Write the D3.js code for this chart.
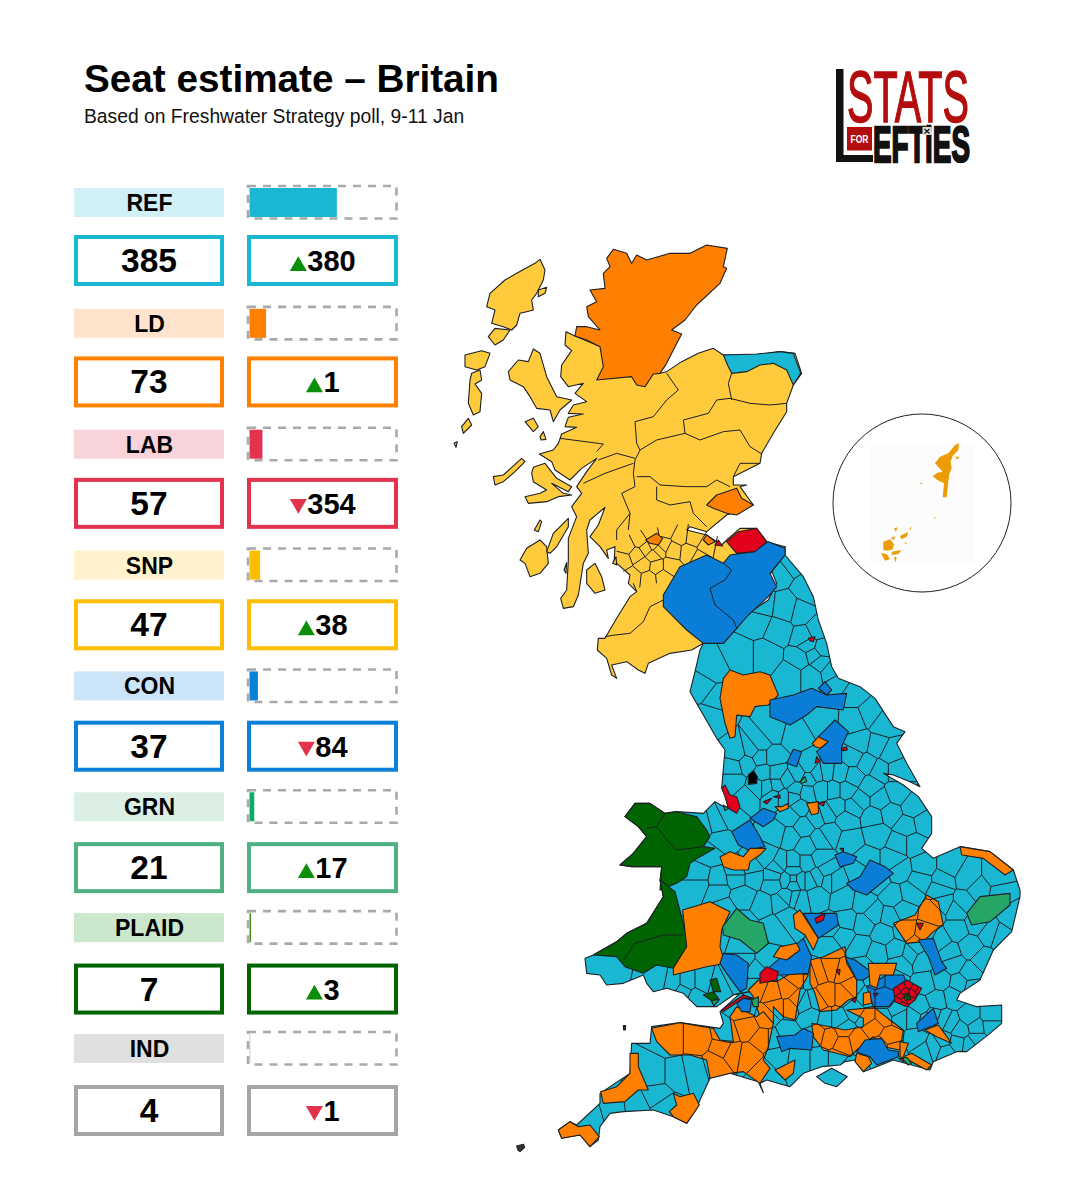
<!DOCTYPE html>
<html>
<head>
<meta charset="utf-8">
<script src="https://cdn.jsdelivr.net/npm/d3@7"></script>
<style>
  html, body { margin: 0; background: #fff; }
  text { font-family: "Liberation Sans", Arial, sans-serif; }
</style>
</head>
<body>
<svg id="chart" width="1078" height="1200"></svg>
<script>
// party table
const parties = ["REF", "LD", "LAB", "SNP", "CON", "GRN", "PLAID", "IND"];
const seats = [385, 73, 57, 47, 37, 21, 7, 4];
const changes = [380, 1, -354, 38, -84, 17, 3, -1];
const partyColors = ["#19b7d3", "#ff8000", "#e2324c", "#fdbe00", "#0a80d8", "#4fb183", "#006400", "#a5a5a5"];
const barColors = ["#19b7d3", "#ff8000", "#e2324c", "#fdbe00", "#0a80d8", "#0cad66", "#4c8c1c", "#c8c8c8"];
const labelTints = ["#d1f0f6", "#ffe3cc", "#f8d3da", "#fff2cc", "#cbe4f7", "#dcefe4", "#cce8cc", "#e0e0e0"];
const totalSeats = 650;

const mapColors = {
  ref: "#1ab7d3", ld: "#ff8000", lab: "#e2001a", snp: "#ffcb3c",
  con: "#0a7ed6", grn: "#25a566", plaid: "#006400", ind: "#000"
};

// outlines, in sheet units (3 units = 1px), one sheet per part of the map
const scotlandNorth = [[405,318],[378,305],[375,345],[395,362],[365,405],[362,440],[385,470],[430,460],[405,490],[440,515],[400,525],[385,550],[430,552],[385,562],[375,590],[410,592],[365,612],[355,640],[340,660],[298,672],[335,695],[345,720],[390,750],[425,715],[470,685],[440,725],[410,770],[425,790],[395,830],[410,860],[385,925],[385,990],[380,1080],[362,1105],[370,1135],[400,1130],[415,1095],[430,1000],[445,970],[440,900],[450,870],[495,832],[475,885],[450,920],[480,950],[505,985],[500,960],[525,950],[522,1000],[530,1000],[570,1035],[565,1060],[590,1085],[570,1100],[530,1165],[495,1225],[475,1225],[472,1260],[500,1285],[515,1335],[530,1345],[515,1305],[560,1295],[595,1320],[615,1330],[625,1300],[690,1270],[755,1260],[790,1240],[900,1150],[1030,980],[1035,950],[980,935],[950,895],[900,895],[860,930],[845,945],[800,915],[740,900],[750,890],[800,905],[860,855],[940,825],[900,770],[920,765],[880,765],[880,740],[960,700],[965,670],[1000,610],[1040,545],[1040,520],[1060,465],[1085,430],[1065,370],[1020,365],[950,375],[850,375],[820,355],[775,370],[725,395],[680,425],[660,430],[600,400]];
const scottishIslands = [
  [[300,88],[315,120],[310,150],[290,190],[275,210],[280,240],[260,245],[240,250],[230,285],[215,300],[190,290],[155,280],[165,240],[140,230],[150,190],[195,150],[230,130],[285,100]],
  [[165,295],[210,300],[190,330],[165,345],[145,320]],
  [[75,375],[125,362],[150,370],[135,410],[110,420],[75,410]],
  [[95,430],[120,420],[125,450],[105,462],[125,490],[120,545],[100,555],[85,520],[90,450]],
  [[65,590],[85,565],[95,585],[70,610]],
  [[42,640],[52,635],[48,652]],
  [[280,357],[300,370],[320,440],[350,500],[395,510],[360,540],[340,575],[330,540],[290,535],[270,500],[250,470],[210,450],[205,425],[235,390],[265,395]],
  [[295,180],[320,172],[315,190],[295,200]],
  [[255,575],[280,565],[295,590],[280,605]],
  [[300,620],[310,605],[318,628],[303,630]],
  [[280,712],[315,700],[350,745],[395,770],[385,785],[335,760],[370,790],[395,795],[355,800],[320,815],[265,820],[255,800],[300,790],[320,780],[280,755],[275,730]],
  [[160,740],[190,735],[245,685],[255,695],[225,725],[190,755],[165,765]],
  [[283,900],[300,870],[305,875],[295,905]],
  [[240,990],[260,955],[300,930],[320,950],[325,1000],[300,1030],[270,1040],[255,1000]],
  [[320,965],[340,910],[385,865],[385,890],[350,950],[330,970]],
  [[372,1020],[380,998],[378,1030]],
  [[440,1020],[465,1000],[485,1040],[495,1080],[465,1090],[440,1060]],
  [[518,1000],[528,980],[530,1005]]
];
const scottishSeats = [
  {party: "ld", ring: [[520,58],[560,70],[575,100],[590,75],[620,90],[690,70],[750,70],[800,45],[862,55],[850,110],[860,115],[840,160],[770,225],[735,270],[695,300],[725,312],[700,360],[680,400],[660,430],[640,432],[615,470],[590,465],[575,440],[470,450],[490,410],[480,350],[440,330],[405,318],[410,290],[440,290],[480,300],[445,260],[440,230],[470,215],[450,180],[495,175],[490,130],[510,110],[500,85]]},
  {party: "ref", ring: [[850,375],[950,372],[1020,365],[1060,370],[1082,430],[1060,465],[1040,420],[1000,400],[960,405],[920,425],[875,430],[865,410]]},
  {party: "ld", ring: [[800,825],[830,795],[890,775],[905,805],[940,825],[890,855],[860,850],[820,835]]},
  {party: "con", ring: [[790,1240],[850,1240],[890,1195],[925,1155],[985,1100],[1010,1070],[990,1030],[1035,975],[1035,955],[985,935],[940,965],[870,975],[850,1000],[800,975],[720,1010],[670,1095],[670,1130],[690,1150],[740,1200]]},
  {party: "lab", ring: [[860,935],[895,905],[950,895],[980,935],[945,965],[890,970]]},
  {party: "ld", ring: [[617,930],[650,910],[668,925],[655,945],[630,940]]},
  {party: "ld", ring: [[790,930],[800,915],[825,935],[805,945]]},
  {party: "lab", ring: [[825,945],[835,930],[848,948]]}
];
const bordersLine = [[850,1000],[875,1020],[855,1050],[810,1075],[825,1125],[880,1170],[890,1195]];
const scottishBoundaries = [
  [[680,430],[715,480],[680,510],[640,560],[585,575],[590,640],[600,660]],
  [[600,660],[650,630],[735,610],[780,630],[850,605],[900,600],[930,650],[965,672]],
  [[735,610],[730,570],[805,550],[830,510],[870,505],[930,520],[990,525],[1040,520]],
  [[875,430],[865,460],[875,510]],
  [[600,660],[585,690],[580,730],[585,770],[545,790],[570,850],[565,900]],
  [[475,690],[530,670],[585,685]],
  [[590,740],[630,740],[660,765],[740,770],[800,770],[830,750],[870,770]],
  [[880,740],[900,700],[960,700]],
  [[650,770],[650,810],[690,825],[750,815],[760,850],[800,890]],
  [[360,625],[490,642],[470,665]],
  [[495,1220],[525,1215],[570,1210],[610,1175],[630,1130],[670,1110]],
  [[580,1060],[590,1085]],
  [[670,1095],[700,1050]],
  [[570,850],[530,900],[530,930]],
  [[430,760],[495,730],[580,700]]
];
const centralBeltZone = [[530,930],[600,900],[740,880],[800,905],[860,930],[880,970],[830,990],[700,1050],[650,1060],[590,1075],[530,1000]];
const centralBeltSeeds = [[560,950],[600,930],[630,910],[680,900],[720,920],[760,925],[800,950],[850,960],[550,990],[590,975],[620,955],[640,945],[655,960],[640,975],[670,945],[700,960],[745,965],[780,985],[610,1005],[650,1010],[690,1010],[580,1040],[625,1045],[670,1040]];

const eastEngland = [[675,-160],[675,-135],[730,-70],[760,-10],[775,60],[800,130],[815,200],[835,235],[900,260],[945,295],[1000,380],[1035,395],[1010,430],[1040,490],[1080,560],[1050,545],[1000,525],[970,520],[1030,555],[1075,590],[1115,650],[1115,700],[1085,745],[1120,775],[1200,740],[1290,755],[1360,810],[1380,870]];
const southCoast = [[1530,110],[1505,215],[1450,270],[1410,360],[1350,400],[1340,420],[1400,440],[1475,435],[1475,490],[1440,520],[1370,575],[1340,575],[1270,605],[1260,630],[1150,600],[1100,620],[1060,635],[1035,600],[1005,605],[990,615],[935,620],[880,640],[840,680],[770,660],[750,670],[760,698],[745,665],[660,640],[600,655],[570,720],[560,745],[530,790],[490,770],[430,750],[340,755],[300,760],[270,800],[265,840],[240,860],[210,825],[155,835],[145,810],[180,785],[200,795],[270,730],[270,700],[360,640],[365,550],[420,550],[425,500],[510,488],[630,505],[640,490],[630,455],[690,400],[720,395],[670,405],[620,440],[560,440],[520,400],[470,385],[430,395],[410,370],[400,345],[340,370],[290,375],[270,345],[230,340],[225,295],[250,285],[320,245],[350,220],[410,190],[460,110],[450,60]];
const westEngland = [[305,800],[215,800],[180,795],[220,760],[260,710],[235,680],[195,650],[225,610],[270,610],[315,640],[350,635],[430,640],[465,605],[500,625],[510,590],[485,565],[495,450],[470,415],[430,345],[390,275],[405,215],[420,150],[430,130],[490,130],[530,85],[565,40],[625,0],[650,-50],[630,-100]];
const isleOfWight = [[920,650],[965,625],[1012,650],[980,680],[945,670]];

const middleSeeds = [[590,60],[660,90],[720,40],[730,110],[770,90],[745,135],[785,145],[760,165],[720,175],[780,190],[810,215],[755,225],[690,225],[830,250],[880,285],[930,340],[880,360],[970,370],[790,355],[700,410],[640,395],[600,430],[470,290],[430,260],[450,355],[460,210],[540,170],[620,170],[530,460],[575,450],[520,500],[560,490],[520,545],[560,590],[600,470],[640,470],[610,520],[650,520],[590,560],[620,560],[650,555],[680,540],[640,590],[670,590],[705,570],[715,520],[745,500],[745,535],[770,520],[800,515],[840,520],[880,470],[900,430],[950,440],[990,460],[1010,510],[960,510],[920,490],[880,530],[930,560],[960,600],[1010,580],[1060,620],[1090,670],[1040,680],[990,640],[940,650],[900,600],[860,570],[820,570],[785,570],[740,580],[720,620],[700,590],[690,650],[730,680],[770,650],[800,640],[830,620],[860,660],[880,620],[950,700],[1020,730],[1060,730],[1000,780],[920,780],[870,720],[810,700],[780,720],[740,740],[690,710],[650,700],[620,770],[660,790],[700,790],[740,790],[780,775],[800,810],[770,830],[820,840],[700,840],[640,830],[580,830],[510,650],[470,670],[480,720],[450,760],[430,680],[420,830],[470,840],[530,830],[650,-90],[690,-120],[600,20],[680,30],[750,-30]];
const southSeeds = [[570,70],[700,110],[680,40],[725,25],[790,70],[800,20],[850,30],[855,115],[830,110],[870,120],[810,130],[760,135],[920,110],[960,60],[1000,120],[1050,30],[1100,60],[1170,30],[1230,60],[1300,60],[1370,50],[1460,50],[1150,110],[1060,130],[1010,180],[1060,190],[1120,220],[1180,150],[1300,130],[1340,210],[1440,220],[1380,260],[1320,280],[1290,240],[1100,280],[1160,270],[1170,310],[1200,280],[1240,300],[1330,310],[1380,340],[1350,370],[1290,360],[1250,370],[1170,470],[1220,540],[1270,560],[1320,490],[1380,470],[1440,470],[1400,540],[1340,550],[1230,440],[1280,420],[1330,410],[1160,450],[1120,470],[980,480],[950,480],[1000,550],[440,360],[490,370],[530,370],[580,370],[620,380],[560,410],[520,390],[430,640],[500,640],[550,630],[440,710],[380,740],[310,750],[240,770],[460,740],[650,520],[880,430],[830,520],[800,590],[870,600],[930,600],[980,600],[1010,625],[960,260],[1000,230],[1050,260],[960,200],[770,300],[730,230],[700,300],[680,350],[740,330],[290,330],[1100,350],[1060,320],[1150,350],[1270,470],[1210,470],
  [1360,130],[1410,90],[1470,100],[1510,170],[1470,230],[1400,190],[1340,150],[1290,90],[1240,20],[1320,20],[1420,300],[1385,380],
  [1300,480],[1350,510],[1400,500],[1440,495],[1300,540],[1250,480],[1240,570],[1310,575],[1380,555],
  [1120,420],[1090,500],[1140,530],[1040,540],[1000,510],[960,530],[920,520],[1070,470],[1110,560],[1150,570],[1040,450],[1070,420],
  [960,330],[1000,340],[930,340],[950,400],[1000,400],[1020,380],[920,420],
  [850,70],[830,60],[870,60],[900,60],[620,90],
  [640,150],[700,190],[790,200],[830,170],[610,230],[700,260],
  [740,380],[790,400],[830,390],[860,420],[800,440],[770,470],[710,500],[760,540],[660,580],[720,590],[640,570],[560,540],[480,540],[620,610],[760,630],
  [900,470],[840,440],[900,350],[860,350],[790,540],[700,450],
  [1090,160],[1140,170],[1200,100],[1270,160],[1250,220],[1180,210],[1220,260]];
const middleOverlays = [
  {party: "ld", ring: [[490,235],[510,210],[550,225],[600,215],[630,225],[655,285],[625,315],[585,320],[570,350],[530,345],[525,410],[510,415],[495,370],[480,295]]},
  {party: "con", ring: [[630,300],[700,285],[755,265],[800,285],[860,280],[850,330],[770,320],[740,345],[690,375],[630,350]]},
  {party: "con", ring: [[775,265],[795,245],[815,270],[800,285]]},
  {party: "con", ring: [[775,410],[800,385],[825,360],[865,395],[845,440],[845,490],[790,490],[770,455],[800,430]]},
  {party: "ld", ring: [[757,430],[775,410],[805,425],[780,445],[765,440]]},
  {party: "lab", ring: [[845,445],[860,440],[862,450],[847,452]]},
  {party: "lab", ring: [[770,470],[780,485],[765,490]]},
  {party: "lab", ring: [[745,115],[765,110],[760,125],[750,122]]},
  {party: "con", ring: [[680,490],[700,448],[725,455],[710,500]]},
  {party: "ind", ring: [[565,525],[580,512],[592,530],[590,550],[565,553]]},
  {party: "lab", ring: [[485,565],[495,555],[510,585],[530,590],[540,620],[530,640],[505,625],[495,590]]},
  {party: "lab", ring: [[610,605],[635,595],[620,612]]},
  {party: "lab", ring: [[640,590],[660,585],[660,595]]},
  {party: "grn", ring: [[720,545],[735,530],[740,545],[725,550]]},
  {party: "ld", ring: [[645,620],[665,620],[685,610],[685,625],[660,635]]},
  {party: "ld", ring: [[740,610],[775,605],[775,640],[755,645]]},
  {party: "lab", ring: [[775,610],[795,605],[790,618]]},
  {party: "grn", ring: [[490,615],[505,625],[495,632]]},
  {party: "con", ring: [[570,655],[610,625],[650,640],[640,660],[610,680]]},
  {party: "con", ring: [[515,695],[570,660],[600,710],[615,740],[565,750],[535,735]]},
  {party: "ld", ring: [[480,770],[510,755],[550,770],[570,745],[618,745],[600,765],[570,785],[565,810],[520,810],[490,800]]},
  {party: "con", ring: [[825,765],[850,755],[890,770],[880,790],[840,800]]},
  {party: "lab", ring: [[840,745],[850,745],[850,755]]},
  {party: "con", ring: [[860,850],[900,830],[930,780],[975,800],[1000,820],[975,840],[920,885],[880,870]]},
  {party: "ld", ring: [[1200,740],[1290,755],[1360,810],[1335,825],[1270,775],[1205,765]]},
  {party: "plaid", ring: [[195,650],[225,610],[270,610],[315,640],[350,635],[410,650],[440,690],[450,710],[430,740],[465,745],[420,770],[390,790],[380,830],[350,850],[300,870],[305,800],[215,800],[180,795],[220,760],[260,710],[235,680]]}
];
const walesBoundaries = [[[260,685],[290,680],[315,640]], [[290,680],[330,730],[350,750],[430,740]]];
// groups of several seats: these go under the seat lines
const southBlocks = [
  {party: "ld", ring: [[715,390],[745,360],[800,365],[850,335],[895,345],[870,390],[855,480],[820,470],[790,440],[790,490],[760,500],[730,410]]},
  {party: "ld", ring: [[425,505],[510,488],[610,505],[630,540],[670,545],[660,470],[680,440],[740,470],[760,455],[790,490],[775,560],[760,600],[780,625],[750,670],[700,635],[660,640],[600,655],[590,600],[540,585],[480,585],[440,545]]},
  {party: "ld", ring: [[905,490],[960,500],[1005,510],[1060,500],[1060,475],[1010,450],[1060,445],[1090,440],[1140,480],[1180,510],[1170,570],[1120,560],[1090,530],[1040,570],[1020,590],[980,580],[940,570],[910,530]]},
  {party: "ld", ring: [[900,300],[940,290],[1005,260],[1010,310],[1040,360],[1040,410],[1015,420],[980,450],[930,455],[915,400],[900,370]]},
  {party: "ld", ring: [[1150,190],[1215,165],[1250,105],[1285,125],[1300,195],[1270,215],[1240,245],[1190,250]]},
  {party: "con", ring: [[1070,380],[1130,345],[1180,345],[1190,370],[1140,440],[1090,440]]}
];
const southOverlays = [
  {party: "plaid", ring: [[450,60],[495,95],[525,210],[530,260],[490,325],[440,315],[400,340],[345,320],[320,290],[250,285],[320,245],[350,220],[410,190],[460,110]]},
  {party: "ld", ring: [[518,150],[600,125],[660,155],[635,210],[630,260],[645,310],[590,320],[490,345],[490,325],[530,260]]},
  {party: "grn", ring: [[638,200],[680,145],[720,180],[760,190],[775,250],[740,280],[690,240],[640,225]]},
  {party: "con", ring: [[640,280],[680,285],[715,310],[710,385],[690,395],[650,340],[630,310]]},
  {party: "con", ring: [[880,160],[980,160],[985,195],[925,235]]},
  {party: "ld", ring: [[850,165],[870,150],[925,235],[910,270],[885,225],[855,205]]},
  {party: "lab", ring: [[915,175],[945,160],[940,180],[920,190]]},
  {party: "lab", ring: [[1220,190],[1240,190],[1230,210]]},
  {party: "grn", ring: [[1370,160],[1410,110],[1500,100],[1500,135],[1440,185],[1385,195]]},
  {party: "con", ring: [[1225,240],[1270,235],[1295,305],[1310,325],[1275,345],[1255,290]]},
  {party: "con", ring: [[780,320],[880,235],[905,290],[895,340],[820,345],[780,345]]},
  {party: "ld", ring: [[790,290],[810,260],[860,250],[870,270],[830,300]]},
  {party: "lab", ring: [[750,340],[770,320],[805,335],[800,360],[750,370]]},
  {party: "lab", ring: [[635,450],[700,405],[730,415],[700,415],[640,455]]},
  {party: "ld", ring: [[360,580],[385,580],[385,620],[415,690],[385,690],[345,725],[280,730],[272,695],[320,680],[360,640]]},
  {party: "ld", ring: [[490,700],[510,710],[550,700],[568,735],[530,790],[490,770],[478,755],[500,735]]},
  {party: "ld", ring: [[145,810],[180,785],[205,800],[240,795],[268,830],[240,860],[210,825],[155,835]]},
  {party: "ld", ring: [[795,630],[855,600],[850,640],[825,660]]},
  {party: "con", ring: [[1005,290],[1035,300],[1090,340],[1060,360],[1040,360]]},
  {party: "lab", ring: [[978,330],[990,328],[988,345]]},
  {party: "lab", ring: [[1025,420],[1040,412],[1035,428]]},
  {party: "lab", ring: [[1090,400],[1105,400],[1095,410]]},
  {party: "ld", ring: [[1075,310],[1160,310],[1150,345],[1110,345],[1100,385],[1080,375]]},
  {party: "ld", ring: [[1060,400],[1080,395],[1085,430],[1060,435]]},
  {party: "con", ring: [[1220,490],[1270,445],[1285,490],[1225,515]]},
  {party: "ld", ring: [[1245,510],[1285,495],[1325,550],[1280,530]]},
  {party: "con", ring: [[800,530],[855,525],[880,505],[910,520],[905,570],[840,565],[815,575]]},
  {party: "con", ring: [[1040,575],[1065,540],[1115,535],[1135,570],[1165,575],[1165,590],[1100,615],[1080,590]]},
  {party: "ld", ring: [[1040,580],[1075,590],[1085,610],[1060,635],[1035,605]]},
  {party: "ld", ring: [[1170,545],[1195,550],[1180,590],[1205,580],[1265,615],[1250,630],[1195,600],[1170,590]]},
  {party: "grn", ring: [[1175,595],[1190,592],[1205,610],[1195,615]]},
  {party: "lab", ring: [[1165,595],[1180,595],[1180,605]]},
  {party: "plaid", ring: [[600,360],[620,355],[632,395],[610,395]]},
  {party: "plaid", ring: [[580,405],[610,395],[625,415],[605,422]]},
  {party: "grn", ring: [[605,422],[628,418],[612,437]]},
  {party: "con", ring: [[680,430],[700,415],[725,420],[720,455],[695,455]]},
  {party: "grn", ring: [[725,420],[745,410],[745,440],[730,440]]}
];
const londonZone = [[1150,385],[1190,360],[1235,385],[1215,420],[1190,440],[1155,425]];
const londonSeeds = [[1160,395],[1175,380],[1195,372],[1215,385],[1225,392],[1170,410],[1185,395],[1205,400],[1165,420],[1185,420],[1200,420],[1180,435]];
const londonGreen = [[1182,402],[1198,400],[1202,418],[1186,422]];
const specks = [[[20,858],[40,853],[44,862],[30,875],[24,870]], [[340,497],[347,497],[346,510],[341,510]]];

// inset, Shetland and Orkney
const insetIslands = [
  [[405,135],[417,130],[415,150],[398,168],[392,185],[395,205],[388,222],[385,245],[380,292],[368,292],[372,250],[352,240],[338,228],[352,218],[368,215],[345,190],[360,170],[385,160]],
  [[406,168],[420,173],[410,178]],
  [[190,425],[210,418],[222,432],[218,448],[205,452],[190,450]],
  [[183,460],[200,462],[210,478],[195,482]],
  [[222,470],[230,472],[226,488]],
  [[215,455],[245,450],[235,462],[215,465]],
  [[222,385],[232,382],[228,397]],
  [[240,408],[265,395],[260,410],[245,418]],
  [[250,425],[262,430],[258,432]],
  [[268,385],[274,380],[272,390]],
  [[212,415],[225,408],[222,420]],
  [[300,248],[306,248],[304,254]],
  [[342,352],[347,352],[345,357]]
];

const svg = d3.select("#chart");
svg.append("defs");

// all sheets are crops of the same picture at 3x, so each is just a pair of scales
function makeSheet(left, top, span = 1800) {
  return {
    x: d3.scaleLinear().domain([0, span]).range([left, left + span / 3]),
    y: d3.scaleLinear().domain([0, span]).range([top, top + span / 3])
  };
}
const north = makeSheet(440, 230);
const middle = makeSheet(560, 600);
const south = makeSheet(510, 860);
const inset = makeSheet(820, 400);

const toPx = (sheet, pts) => pts.map(([a, b]) => [sheet.x(a), sheet.y(b)]);
const closedLine = d3.line().curve(d3.curveLinearClosed);
const openLine = d3.line();

const ink = "#1c2024";
const coastWidth = 1.1;
const seatWidth = 1;

drawPanel();
drawLogo();
drawMap();
drawInset();

function drawPanel() {
  svg.append("text").attr("x", 84).attr("y", 92)
    .attr("font-size", 38.7).attr("font-weight", 700).attr("fill", "#000")
    .text("Seat estimate – Britain");
  svg.append("text").attr("x", 84).attr("y", 123)
    .attr("font-size", 19.3).attr("fill", "#111")
    .text("Based on Freshwater Strategy poll, 9-11 Jan");

  const barX = d3.scaleLinear().domain([0, totalSeats]).range([249.5, 397]);
  const rowY = d3.scaleLinear().domain([0, parties.length - 1]).range([188, 1034]);
  const boxY = d3.scaleLinear().domain([0, parties.length - 1]).range([235, 1085]);

  parties.forEach((party, i) => {
    const g = svg.append("g").attr("transform", `translate(0,${rowY(i)})`);

    g.append("rect").attr("x", 74).attr("y", 0).attr("width", 150).attr("height", 29)
      .attr("fill", labelTints[i]);
    g.append("text").attr("x", 149.5).attr("y", 23).attr("text-anchor", "middle")
      .attr("font-size", 23).attr("font-weight", 700).attr("fill", "#000").text(party);

    g.append("rect").attr("x", barX(0)).attr("y", 0)
      .attr("width", barX(seats[i]) - barX(0)).attr("height", 29)
      .attr("fill", barColors[i]);
    g.append("rect").attr("x", 248).attr("y", -2).attr("width", 148.5).attr("height", 32.5)
      .attr("fill", "none").attr("stroke", "#a9a9a9").attr("stroke-width", 2.6)
      .attr("stroke-dasharray", "8 7");

    const box = svg.append("g").attr("transform", `translate(0,${boxY(i)})`);
    box.append("rect").attr("x", 76).attr("y", 2).attr("width", 146).attr("height", 47)
      .attr("fill", "#fff").attr("stroke", partyColors[i]).attr("stroke-width", 4);
    box.append("rect").attr("x", 249).attr("y", 2).attr("width", 147).attr("height", 47)
      .attr("fill", "#fff").attr("stroke", partyColors[i]).attr("stroke-width", 4);

    box.append("text").attr("x", 149).attr("y", 37).attr("text-anchor", "middle")
      .attr("font-size", 33.5).attr("font-weight", 700).attr("fill", "#000").text(seats[i]);

    const up = changes[i] > 0;
    const label = box.append("text").attr("y", 36)
      .attr("font-size", 29).attr("font-weight", 700).attr("fill", "#000")
      .text(Math.abs(changes[i]));
    const triW = 17;
    const textW = label.node().getComputedTextLength();
    const startX = 322.5 - (triW + textW) / 2;
    label.attr("x", startX + triW + 0.5);
    const tri = d3.symbol().type(d3.symbolTriangle).size(125);
    // symbol sits on its centroid, so the flipped one has to drop to share the same box
    box.append("path").attr("d", tri())
      .attr("transform", `translate(${startX + triW / 2},${up ? 31 : 26}) rotate(${up ? 0 : 180})`)
      .attr("fill", up ? "#0b8f0b" : "#e2324c");
  });
}

function drawLogo() {
  const logo = svg.append("g");
  logo.append("rect").attr("x", 836).attr("y", 69).attr("width", 7.5).attr("height", 93).attr("fill", "#111");
  logo.append("rect").attr("x", 836).attr("y", 155).attr("width", 37).attr("height", 7).attr("fill", "#111");
  logo.append("rect").attr("x", 847).attr("y", 127).attr("width", 25).attr("height", 23.5).attr("fill", "#b40d0d");
  logo.append("text").attr("x", 859.5).attr("y", 143).attr("text-anchor", "middle")
    .attr("font-size", 11).attr("font-weight", 700).attr("fill", "#fff")
    .attr("textLength", 18).attr("lengthAdjust", "spacingAndGlyphs").text("FOR");
  // squeezed to the narrow cut of the logo's lettering
  logo.append("text").attr("x", 847).attr("y", 122)
    .attr("font-size", 72).attr("fill", "#b40d0d").attr("stroke", "#b40d0d").attr("stroke-width", 1.4)
    .attr("textLength", 122).attr("lengthAdjust", "spacingAndGlyphs").text("STATS");
  logo.append("text").attr("x", 873).attr("y", 162)
    .attr("font-size", 50).attr("font-weight", 700).attr("fill", "#111")
    .attr("stroke", "#111").attr("stroke-width", 2.4)
    .attr("textLength", 97).attr("lengthAdjust", "spacingAndGlyphs").text("EFTiES");
  logo.append("rect").attr("x", 922.5).attr("y", 127).attr("width", 9).attr("height", 8).attr("fill", "#ddd");
  logo.append("path").attr("d", "M924.5,129 L929.5,133.5 M929.5,129 L924.5,133.5")
    .attr("stroke", "#111").attr("stroke-width", 1.2);
}

function drawMesh(parent, id, zone, seedPts) {
  svg.select("defs").append("clipPath").attr("id", id)
    .append("path").attr("d", closedLine(zone));
  const voronoi = d3.Delaunay.from(seedPts).voronoi([430, 200, 1040, 1180]);
  parent.append("path").attr("d", voronoi.render())
    .attr("clip-path", `url(#${id})`)
    .attr("fill", "none").attr("stroke", ink).attr("stroke-width", seatWidth);
}

function drawMap() {
  const map = svg.append("g").attr("stroke-linejoin", "round");
  const drawRing = (sheet, ring, fill) =>
    map.append("path").attr("d", closedLine(toPx(sheet, ring)))
      .attr("fill", fill).attr("stroke", ink).attr("stroke-width", coastWidth);
  const drawLine = (sheet, line) =>
    map.append("path").attr("d", openLine(toPx(sheet, line)))
      .attr("fill", "none").attr("stroke", ink).attr("stroke-width", seatWidth);

  const england = [...toPx(middle, eastEngland), ...toPx(south, southCoast), ...toPx(middle, westEngland)];

  map.append("path").attr("d", closedLine(england))
    .attr("fill", mapColors.ref).attr("stroke", ink).attr("stroke-width", coastWidth);
  drawRing(south, isleOfWight, mapColors.ref);
  southBlocks.forEach(s => drawRing(south, s.ring, mapColors[s.party]));
  drawMesh(map, "englandClip", england, [...toPx(middle, middleSeeds), ...toPx(south, southSeeds)]);

  drawRing(north, scotlandNorth, mapColors.snp);
  scottishIslands.forEach(ring => drawRing(north, ring, mapColors.snp));
  drawMesh(map, "beltClip", toPx(north, centralBeltZone), toPx(north, centralBeltSeeds));
  scottishBoundaries.forEach(line => drawLine(north, line));

  scottishSeats.forEach(s => drawRing(north, s.ring, mapColors[s.party]));
  drawLine(north, bordersLine);

  middleOverlays.forEach(s => drawRing(middle, s.ring, mapColors[s.party]));
  walesBoundaries.forEach(line => drawLine(middle, line));
  southOverlays.forEach(s => drawRing(south, s.ring, mapColors[s.party]));
  drawLine(south, [[340,300],[375,250],[460,225],[520,225]]);

  drawRing(south, londonZone, mapColors.lab);
  drawRing(south, londonGreen, mapColors.plaid);
  drawMesh(map, "londonClip", toPx(south, londonZone), toPx(south, londonSeeds));

  specks.forEach(ring => drawRing(south, ring, "#333"));
}

function drawInset() {
  const g = svg.append("g");
  g.append("circle").attr("cx", 922).attr("cy", 503).attr("r", 89)
    .attr("fill", "#fff").attr("stroke", "#222").attr("stroke-width", 1);
  g.append("rect").attr("x", 870).attr("y", 443).attr("width", 104).attr("height", 120)
    .attr("fill", "#fcfcfc");
  insetIslands.forEach(ring => {
    g.append("path").attr("d", closedLine(toPx(inset, ring))).attr("fill", "#ec9c04");
  });
}
</script>
</body>
</html>
